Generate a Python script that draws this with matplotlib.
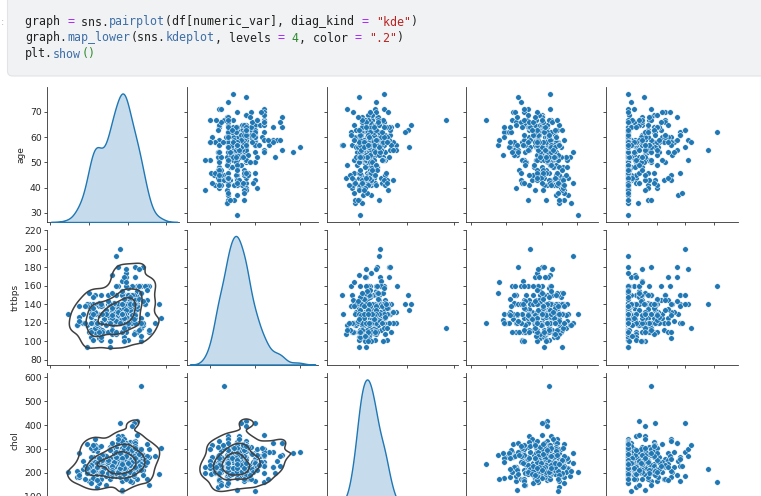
import matplotlib
matplotlib.use("Agg")
import matplotlib.pyplot as plt
from matplotlib.patches import FancyBboxPatch
import seaborn as sns

# heart data: age, trtbps, chol, thalachh, oldpeak (303 rows)
age = [
    63, 67, 67, 37, 41, 56, 62, 57, 63, 53, 57, 56, 56, 44, 52, 57, 48, 54, 48, 49,
    64, 58, 58, 58, 60, 50, 58, 66, 43, 40, 69, 60, 64, 59, 44, 42, 43, 57, 55, 61,
    65, 40, 71, 59, 61, 58, 51, 50, 65, 53, 41, 65, 44, 44, 60, 54, 50, 41, 54, 51,
    51, 46, 58, 54, 54, 60, 60, 54, 59, 46, 65, 67, 62, 65, 44, 65, 60, 51, 48, 58,
    45, 53, 39, 68, 52, 44, 47, 53, 53, 51, 66, 62, 62, 44, 63, 52, 59, 60, 52, 48,
    45, 34, 57, 71, 49, 54, 59, 57, 61, 39, 61, 56, 52, 43, 62, 41, 58, 35, 63, 65,
    48, 63, 51, 55, 65, 45, 56, 54, 44, 62, 54, 51, 29, 51, 43, 55, 70, 62, 35, 51,
    59, 59, 52, 64, 58, 47, 57, 41, 45, 60, 52, 42, 67, 55, 64, 70, 51, 58, 60, 68,
    46, 77, 54, 58, 48, 57, 52, 54, 35, 45, 70, 53, 59, 62, 64, 57, 52, 56, 43, 53,
    48, 56, 42, 59, 60, 63, 42, 66, 54, 69, 50, 51, 43, 62, 68, 67, 69, 45, 50, 59,
    50, 64, 57, 64, 43, 45, 58, 50, 55, 62, 37, 38, 41, 66, 52, 56, 46, 46, 64, 59,
    41, 54, 39, 53, 63, 34, 47, 67, 54, 66, 52, 55, 49, 74, 54, 54, 56, 46, 49, 42,
    41, 41, 49, 61, 60, 67, 58, 47, 52, 62, 57, 58, 64, 51, 43, 42, 67, 76, 70, 57,
    44, 58, 60, 44, 61, 42, 52, 59, 40, 42, 61, 66, 46, 71, 59, 64, 66, 39, 57, 58,
    57, 47, 55, 35, 61, 58, 58, 58, 56, 56, 67, 55, 44, 63, 63, 41, 59, 57, 45, 68,
    57, 57, 38,
]
trtbps = [
    145, 160, 120, 130, 130, 120, 140, 120, 130, 140, 140, 140, 130, 120, 172, 150, 110, 140, 130, 130,
    110, 150, 120, 132, 130, 120, 120, 150, 150, 110, 140, 117, 140, 135, 130, 140, 120, 150, 132, 150,
    150, 140, 160, 150, 130, 112, 110, 150, 140, 130, 105, 120, 112, 130, 130, 124, 140, 110, 125, 125,
    130, 142, 128, 135, 120, 145, 140, 150, 170, 150, 155, 125, 120, 110, 110, 160, 125, 140, 130, 150,
    104, 130, 140, 180, 120, 140, 138, 128, 138, 130, 120, 160, 130, 108, 135, 128, 110, 150, 134, 122,
    115, 118, 128, 110, 120, 108, 140, 128, 120, 118, 145, 125, 118, 132, 130, 135, 140, 138, 130, 135,
    130, 150, 100, 140, 138, 130, 200, 110, 120, 124, 120, 94, 130, 140, 122, 135, 145, 120, 120, 125,
    140, 170, 128, 125, 105, 108, 165, 112, 128, 102, 152, 102, 115, 160, 120, 130, 140, 125, 140, 118,
    101, 125, 110, 100, 124, 132, 138, 132, 126, 112, 160, 142, 174, 140, 145, 152, 108, 132, 130, 130,
    124, 134, 148, 178, 158, 140, 120, 160, 192, 140, 129, 140, 132, 138, 120, 100, 160, 138, 120, 160,
    110, 180, 150, 140, 110, 142, 128, 144, 130, 150, 120, 120, 130, 178, 112, 120, 105, 138, 130, 138,
    112, 108, 94, 123, 108, 118, 112, 152, 110, 112, 136, 180, 118, 120, 160, 122, 130, 120, 134, 120,
    110, 126, 130, 134, 120, 120, 100, 110, 125, 128, 110, 146, 128, 120, 115, 120, 106, 140, 156, 124,
    118, 136, 150, 120, 138, 136, 128, 126, 152, 130, 140, 160, 140, 112, 134, 170, 146, 138, 154, 130,
    110, 130, 128, 122, 148, 114, 170, 125, 130, 120, 152, 132, 120, 140, 124, 120, 164, 140, 110, 144,
    130, 130, 138,
]
chol = [
    233, 286, 229, 250, 204, 236, 268, 354, 254, 203, 192, 294, 256, 263, 199, 168, 229, 239, 275, 266,
    211, 283, 284, 224, 206, 219, 340, 226, 247, 167, 239, 230, 335, 234, 233, 226, 177, 276, 353, 243,
    225, 199, 302, 212, 330, 230, 175, 243, 417, 197, 198, 177, 290, 219, 253, 266, 233, 172, 273, 213,
    305, 177, 216, 304, 188, 282, 185, 232, 326, 231, 269, 254, 267, 248, 197, 360, 258, 308, 245, 270,
    208, 264, 321, 274, 325, 235, 257, 216, 234, 256, 302, 164, 231, 141, 252, 255, 239, 258, 201, 222,
    260, 182, 303, 265, 188, 309, 177, 229, 260, 219, 307, 249, 186, 341, 263, 203, 211, 183, 330, 254,
    256, 407, 222, 217, 282, 234, 288, 239, 220, 209, 258, 227, 204, 261, 213, 250, 174, 281, 198, 245,
    221, 288, 205, 309, 240, 243, 289, 250, 308, 318, 298, 265, 564, 289, 246, 322, 299, 300, 293, 277,
    197, 304, 214, 248, 255, 207, 223, 288, 282, 160, 269, 226, 249, 394, 212, 274, 233, 184, 315, 246,
    274, 409, 244, 270, 305, 195, 240, 246, 283, 254, 196, 298, 247, 294, 211, 299, 234, 236, 244, 273,
    254, 325, 126, 313, 211, 309, 259, 200, 262, 244, 215, 231, 214, 228, 230, 193, 204, 243, 303, 271,
    268, 267, 199, 282, 269, 210, 204, 277, 206, 212, 196, 327, 149, 269, 201, 286, 283, 249, 271, 295,
    235, 306, 269, 234, 178, 237, 234, 275, 212, 208, 201, 218, 263, 295, 303, 209, 223, 197, 245, 261,
    242, 319, 240, 226, 166, 315, 204, 218, 223, 180, 207, 228, 311, 149, 204, 227, 278, 220, 232, 197,
    335, 253, 205, 192, 203, 318, 225, 220, 221, 240, 212, 342, 169, 187, 197, 157, 176, 241, 264, 193,
    131, 236, 175,
]
thalachh = [
    150, 108, 129, 187, 172, 178, 160, 163, 147, 155, 148, 153, 142, 173, 162, 174, 168, 160, 139, 171,
    144, 162, 160, 173, 132, 158, 172, 114, 171, 114, 151, 160, 158, 161, 179, 178, 120, 112, 132, 137,
    114, 178, 162, 157, 169, 165, 123, 128, 157, 152, 168, 140, 153, 188, 144, 109, 163, 158, 152, 125,
    142, 160, 131, 170, 113, 142, 155, 165, 140, 147, 148, 163, 99, 158, 177, 151, 141, 142, 180, 111,
    148, 143, 182, 150, 172, 180, 156, 115, 160, 149, 151, 145, 146, 175, 172, 161, 142, 157, 158, 186,
    185, 174, 159, 130, 139, 156, 162, 150, 140, 140, 146, 144, 190, 136, 97, 132, 165, 182, 132, 127,
    150, 154, 143, 111, 174, 175, 133, 126, 170, 163, 147, 154, 202, 186, 165, 161, 125, 103, 130, 166,
    164, 159, 184, 131, 154, 152, 124, 179, 170, 160, 178, 122, 160, 145, 96, 109, 173, 171, 170, 151,
    156, 162, 158, 122, 175, 168, 169, 159, 156, 138, 112, 111, 143, 157, 132, 88, 147, 105, 162, 173,
    166, 150, 178, 145, 161, 179, 194, 120, 195, 146, 163, 122, 143, 106, 115, 125, 131, 152, 162, 125,
    159, 154, 173, 133, 161, 147, 130, 126, 155, 154, 170, 182, 168, 165, 160, 162, 172, 152, 122, 182,
    172, 167, 179, 95, 169, 192, 143, 172, 108, 132, 169, 117, 126, 121, 163, 116, 103, 144, 162, 162,
    153, 163, 163, 145, 96, 71, 156, 118, 168, 140, 126, 105, 105, 157, 181, 173, 142, 116, 143, 141,
    149, 152, 171, 169, 125, 125, 156, 134, 181, 150, 138, 138, 120, 125, 162, 155, 152, 152, 164, 131,
    143, 179, 130, 174, 161, 140, 146, 144, 163, 169, 150, 166, 144, 144, 136, 182, 90, 123, 132, 141,
    115, 174, 173,
]
oldpeak = [
    2.3, 1.5, 2.6, 3.5, 1.4, 0.8, 3.6, 0.6, 1.4, 3.1, 0.4, 1.3, 0.6, 0, 0.5, 1.6, 1, 1.2, 0.2, 0.6,
    1.8, 1, 1.8, 3.2, 2.4, 1.6, 0, 2.6, 1.5, 2, 1.8, 1.4, 0, 0.5, 0.4, 0, 2.5, 0.6, 1.2, 1,
    1, 1.4, 0.4, 1.6, 0, 2.5, 0.6, 2.6, 0.8, 1.2, 0, 0.4, 0, 0, 1.4, 2.2, 0.6, 0, 0.5, 1.4,
    1.2, 1.4, 2.2, 0, 1.4, 2.8, 3, 1.6, 3.4, 3.6, 0.8, 0.2, 1.8, 0.6, 0, 0.8, 2.8, 1.5, 0.2, 0.8,
    3, 0.4, 0, 1.6, 0.2, 0, 0, 0, 0, 0.5, 0.4, 6.2, 1.8, 0.6, 0, 0, 1.2, 2.6, 0.8, 0,
    0, 0, 0, 0, 2, 0, 0, 0.4, 3.6, 1.2, 1, 1.2, 0, 3, 1.2, 0, 0, 1.4, 1.8, 2.8,
    0, 4, 1.2, 5.6, 1.4, 0.6, 4, 2.8, 0, 0, 0.4, 0, 0, 0, 0.2, 1.4, 2.6, 1.4, 1.6, 2.4,
    0, 0.2, 0, 1.8, 0.6, 0, 1, 0, 0, 0, 1.2, 0.6, 1.6, 0.8, 2.2, 2.4, 1.6, 0, 1.2, 1,
    0, 0, 1.6, 1, 0, 0, 0, 0, 0, 0, 2.9, 0, 0, 1.2, 2, 1.2, 0.1, 2.1, 1.9, 0,
    0.5, 1.9, 0.8, 4.2, 0, 0, 0.8, 0, 0, 2, 0, 4.2, 0.1, 1.9, 1.5, 0.9, 0.1, 0.2, 1.1, 0,
    0, 0, 0.2, 0.2, 0, 0, 3, 0.9, 0, 1.4, 0, 3.8, 2, 1, 0, 1.9, 0, 0, 2, 0,
    0, 0, 0, 2, 1.8, 0.7, 0.1, 0, 0, 0.1, 0.1, 3.4, 0.8, 0.2, 0, 3.2, 1.6, 0.8, 0, 0,
    0, 0, 0, 2.6, 0, 1, 0.1, 1, 1, 0, 1.5, 2, 0.2, 0.6, 1.2, 0, 0.3, 1.1, 0, 0.3,
    0.3, 0, 0.9, 0, 3.6, 1.8, 1, 2.2, 0, 0, 1.9, 2.3, 1.8, 1.6, 0.8, 0.6, 0, 0, 0, 0.6,
    3, 0, 2, 0, 0, 4.4, 2.8, 0.4, 0, 0, 0.8, 1.2, 2.8, 4, 0, 0, 1, 0.2, 1.2, 3.4,
    1.2, 0, 0,
]

var_names = ["age", "trtbps", "chol", "thalachh", "oldpeak"]
columns = [age, trtbps, chol, thalachh, oldpeak]

# axis ranges (shared by column / row)
x_limits = [(18.4, 86.2), (73.7, 220.3), (61, 617), (43, 230), (-1.5, 7.64)]
x_ticks = [[20, 40, 60, 80], [100, 150, 200], [200, 400, 600], [50, 100, 150, 200], [0, 2, 4, 6]]
y_limits = [(26.4, 79.9), (75, 221), (54, 617)]
y_ticks = [[30, 40, 50, 60, 70], [80, 100, 120, 140, 160, 180, 200, 220], [100, 200, 300, 400, 500, 600]]

W, H = 761, 496
fig = plt.figure(figsize=(W / 100, H / 100), dpi=100)

# background layer in pixel coordinates for the notebook cell
bg = fig.add_axes([0, 0, 1, 1])
bg.set_xlim(0, W)
bg.set_ylim(H, 0)
bg.axis("off")
bg.add_patch(FancyBboxPatch((7.5, -12), 780, 88, boxstyle="round,pad=0,rounding_size=5",
                            fc="#f0f2f3", ec="#e1e3e5", lw=0.8))
bg.text(3, 22, ":", color="#b0b0b0", fontsize=7, va="center", ha="center")

black, purple, blue, red, green = "#212121", "#aa22ff", "#3d6ea8", "#ba2121", "#2e8b2e"
code_lines = [
    [("graph ", black), ("=", purple), (" sns.", black), ("pairplot", blue),
     ("(df[numeric_var], diag_kind ", black), ("=", purple), (" ", black),
     ('"kde"', red), (")", black)],
    [("graph.", black), ("map_lower", blue), ("(sns.", black), ("kdeplot", blue),
     (", levels ", black), ("=", purple), (" ", black), ("4", green),
     (", color ", black), ("=", purple), (" ", black), ('".2"', red), (")", black)],
    [("plt.", black), ("show", blue), ("()", green)],
]
char_w = 7.02
for line_y, parts in zip([22, 38, 54], code_lines):
    n = 0
    for txt, col in parts:
        bg.text(25 + n * char_w, line_y, txt, color=col, fontsize=8.4,
                family="DejaVu Sans Mono", va="center", ha="left")
        n += len(txt)

# pair grid (only the top three rows are visible in the screenshot)
col_left = [47, 186.8, 326.6, 466.4, 606.2]
row_top = [87, 229.5, 373]
cell_w, cell_h = 131.5, 135

for r in range(3):
    for c in range(5):
        ax = fig.add_axes([col_left[c] / W, 1 - (row_top[r] + cell_h) / H, cell_w / W, cell_h / H])
        for s in ["top", "right"]:
            ax.spines[s].set_visible(False)
        for s in ["left", "bottom"]:
            ax.spines[s].set_linewidth(0.6)
            ax.spines[s].set_color("#333333")

        if r == c:
            tw = ax.twinx()
            sns.kdeplot(x=columns[c], fill=True, ax=tw, color="C0", linewidth=1.0)
            tw.set_axis_off()
        else:
            sns.scatterplot(x=columns[c], y=columns[r], ax=ax, s=16, color="C0",
                            edgecolor="white", linewidth=0.35)
            if r > c:
                sns.kdeplot(x=columns[c], y=columns[r], levels=4, color=".25", ax=ax,
                            linewidths=1.1)

        ax.set_xlim(x_limits[c])
        ax.set_ylim(y_limits[r])
        ax.set_xticks(x_ticks[c])
        ax.set_yticks(y_ticks[r])
        ax.tick_params(length=2.3, width=0.6, color="#333333", labelsize=6.7,
                       labelcolor="#262626", pad=1.5, labelbottom=False, labelleft=(c == 0))
        ax.set_xlabel("")
        if c == 0:
            ax.set_ylabel(var_names[r], fontsize=6.5, color="#262626", labelpad=3)
        else:
            ax.set_ylabel("")

# text-cursor visible in the screenshot
bg.text(651, 205, "I", fontsize=8, family="DejaVu Serif", color="black",
        ha="center", va="center", zorder=10)

fig.savefig("out.png", dpi=100)
